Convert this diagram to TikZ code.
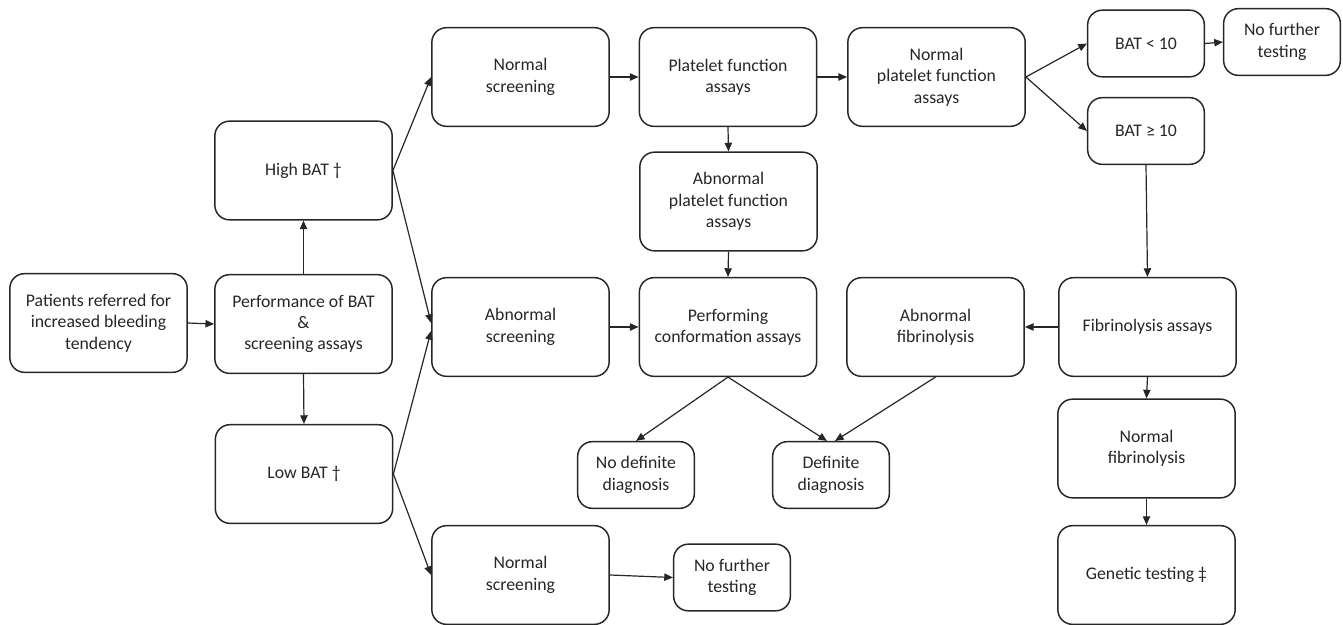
\documentclass[tikz,border=0pt]{standalone}
\usepackage{fontspec}
\setmainfont{Carlito}
\usetikzlibrary{arrows.meta}

\begin{document}
\begin{tikzpicture}[x=0.75pt, y=-0.75pt,
  box/.style={draw=black!85, line width=1.1pt, rounded corners=11pt, align=center,
    minimum width=133pt, minimum height=74pt, inner sep=2pt, text=black!85,
    font=\fontsize{13.3}{16}\selectfont},
  smallbox/.style={box, minimum width=87.5pt, minimum height=50pt},
  arr/.style={-{Triangle[length=6.5pt,width=5.5pt]}, line width=0.9pt, draw=black!85}]
  % canvas in pixels of the reference, y runs downwards
  \useasboundingbox (0,0) rectangle (1343,625);
  % left column
  \node[box] (pat)  at (98.5,323)  {Patients referred for\\increased bleeding\\tendency};
  \node[box] (perf) at (303.5,324) {Performance of BAT\\\&\\screening assays};
  \node[box] (high) at (303.5,170.5) {High BAT †};
  \node[box] (low)  at (304,474)   {Low BAT †};
  % screening column
  \node[box] (nscr)  at (520.5,77)  {Normal\\screening};
  \node[box] (ascr)  at (520.5,327) {Abnormal\\screening};
  \node[box] (nscrb) at (520.5,575) {Normal\\screening};
  % assays column
  \node[box] (pfa)  at (728,77)    {Platelet function\\assays};
  \node[box] (apfa) at (728.5,201.5) {Abnormal\\platelet function\\assays};
  \node[box] (conf) at (728,327)   {Performing\\conformation assays};
  \node[smallbox] (nodef) at (636,475)   {No definite\\diagnosis};
  \node[smallbox] (defd)  at (831,475)   {Definite\\diagnosis};
  \node[smallbox] (nfurb) at (732,577.5) {No further\\testing};
  \node[box] (npfa) at (936.5,77)  {Normal\\platelet function\\assays};
  \node[box] (afib) at (935.5,327) {Abnormal\\fibrinolysis};
  % right column
  \node[smallbox] (lt)    at (1146,43.5) {BAT < 10};
  \node[smallbox] (ge)    at (1146,131)  {BAT ≥ 10};
  \node[smallbox] (nfurt) at (1282,42)   {No further\\testing};
  \node[box] (fib)  at (1147.5,327) {Fibrinolysis assays};
  \node[box] (nfib) at (1146.5,448.5) {Normal\\fibrinolysis};
  \node[box] (gen)  at (1146.5,575) {Genetic testing ‡};
  % connectors
  \foreach \a/\b in {pat.east/perf.west, perf.north/high.south, perf.south/low.north,
      high.east/nscr.west, low.east/nscrb.west, nscr.east/pfa.west, pfa.east/npfa.west,
      pfa.south/apfa.north, apfa.south/conf.north, ascr.east/conf.west,
      npfa.east/lt.west, npfa.east/ge.west, lt.east/nfurt.west, ge.south/fib.north,
      fib.west/afib.east, fib.south/nfib.north, nfib.south/gen.north,
      conf.south/nodef.north, nscrb.east/nfurb.west}
    \draw[arr] (\a) -- (\b);
  \draw[arr] (high.east) -- ([yshift=3pt]ascr.west);
  \draw[arr] (low.east) -- ([yshift=-3pt]ascr.west);
  \draw[arr] (conf.south) -- ([xshift=-3pt]defd.north);
  \draw[arr] (afib.south) -- ([xshift=3pt]defd.north);
\end{tikzpicture}
\end{document}
